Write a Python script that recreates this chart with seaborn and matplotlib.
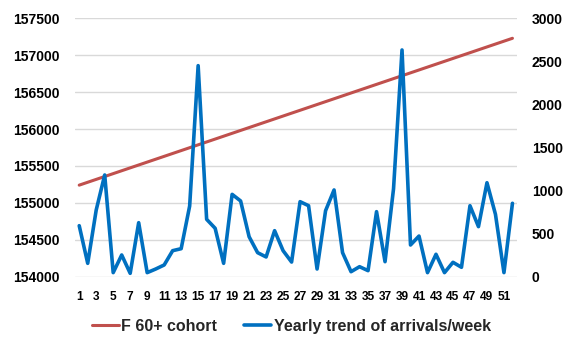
import matplotlib
matplotlib.use("Agg")
import matplotlib.pyplot as plt
import seaborn as sns
import pandas as pd
from matplotlib.ticker import MultipleLocator, FixedLocator
from matplotlib.lines import Line2D

weeks = list(range(1, 53))
cohort = [155240, 155279, 155318, 155357, 155396, 155435, 155474, 155513, 155552, 155591,
          155630, 155669, 155708, 155747, 155786, 155825, 155864, 155903, 155942, 155981,
          156020, 156059, 156098, 156137, 156176, 156215, 156254, 156293, 156332, 156371,
          156410, 156449, 156488, 156527, 156566, 156605, 156644, 156683, 156722, 156761,
          156800, 156839, 156878, 156917, 156956, 156995, 157034, 157073, 157112, 157151,
          157190, 157229]
arrivals = [592, 155, 774, 1181, 47, 252, 39, 627, 47, 89,
            136, 302, 325, 820, 2450, 666, 562, 155, 956, 879,
            464, 279, 229, 534, 302, 170, 871, 824, 89, 766,
            1007, 279, 58, 116, 70, 755, 174, 1020, 2632, 368,
            472, 47, 260, 47, 167, 109, 824, 581, 1091, 724,
            47, 852]
series_names = ["F 60+ cohort", "Yearly trend of arrivals/week"]
tick_weeks = list(range(1, 53, 2))

df = pd.DataFrame({"week": weeks, "cohort": cohort, "arrivals": arrivals})

sns.set_style("white")
plt.rcParams["font.family"] = ["Liberation Sans", "DejaVu Sans"]
plt.rcParams["font.weight"] = "bold"

RED = "#C0504D"
BLUE = "#0070C0"

fig = plt.figure(figsize=(5.71, 3.38), dpi=100)
ax = fig.add_axes([0.1313, 0.1814, 0.9049 - 0.1313, 0.9459 - 0.1814])
ax2 = ax.twinx()

sns.lineplot(data=df, x="week", y="cohort", ax=ax, color=RED, linewidth=2.2, legend=False)
sns.lineplot(data=df, x="week", y="arrivals", ax=ax2, color=BLUE, linewidth=2.6, legend=False)

ax.set_xlim(0.5, 52.5)
ax.set_ylim(154000, 157500)
ax2.set_ylim(0, 3000)
ax.yaxis.set_major_locator(MultipleLocator(500))
ax2.yaxis.set_major_locator(MultipleLocator(500))
ax.xaxis.set_major_locator(FixedLocator(tick_weeks))
ax.set_xticklabels([str(w) for w in tick_weeks])

ax.grid(axis="y", color="#D9D9D9", linewidth=1)
ax.grid(axis="x", visible=False)
ax2.grid(False)
ax.set_axisbelow(True)
ax.set_zorder(ax2.get_zorder() - 1) if False else None

for a in (ax, ax2):
    for s in a.spines.values():
        s.set_visible(False)
    a.set_xlabel("")
    a.set_ylabel("")

ax.tick_params(axis="y", length=0, pad=11, labelsize=10, labelcolor="black")
ax2.tick_params(axis="y", length=0, pad=11, labelsize=10, labelcolor="black")
ax.tick_params(axis="x", length=0, pad=10, labelsize=8.6, labelcolor="black")
for lbl in ax.get_yticklabels() + ax2.get_yticklabels() + ax.get_xticklabels():
    lbl.set_fontweight("bold")

handles = [Line2D([], [], color=RED, linewidth=2.2), Line2D([], [], color=BLUE, linewidth=2.6)]
leg = fig.legend(handles, series_names, loc="center", bbox_to_anchor=(0.51, 0.035),
                 ncol=2, frameon=False, fontsize=11.5, handlelength=1.7,
                 handletextpad=0.15, columnspacing=1.7)
for t in leg.get_texts():
    t.set_fontweight("bold")

fig.savefig("out.png", dpi=100)
